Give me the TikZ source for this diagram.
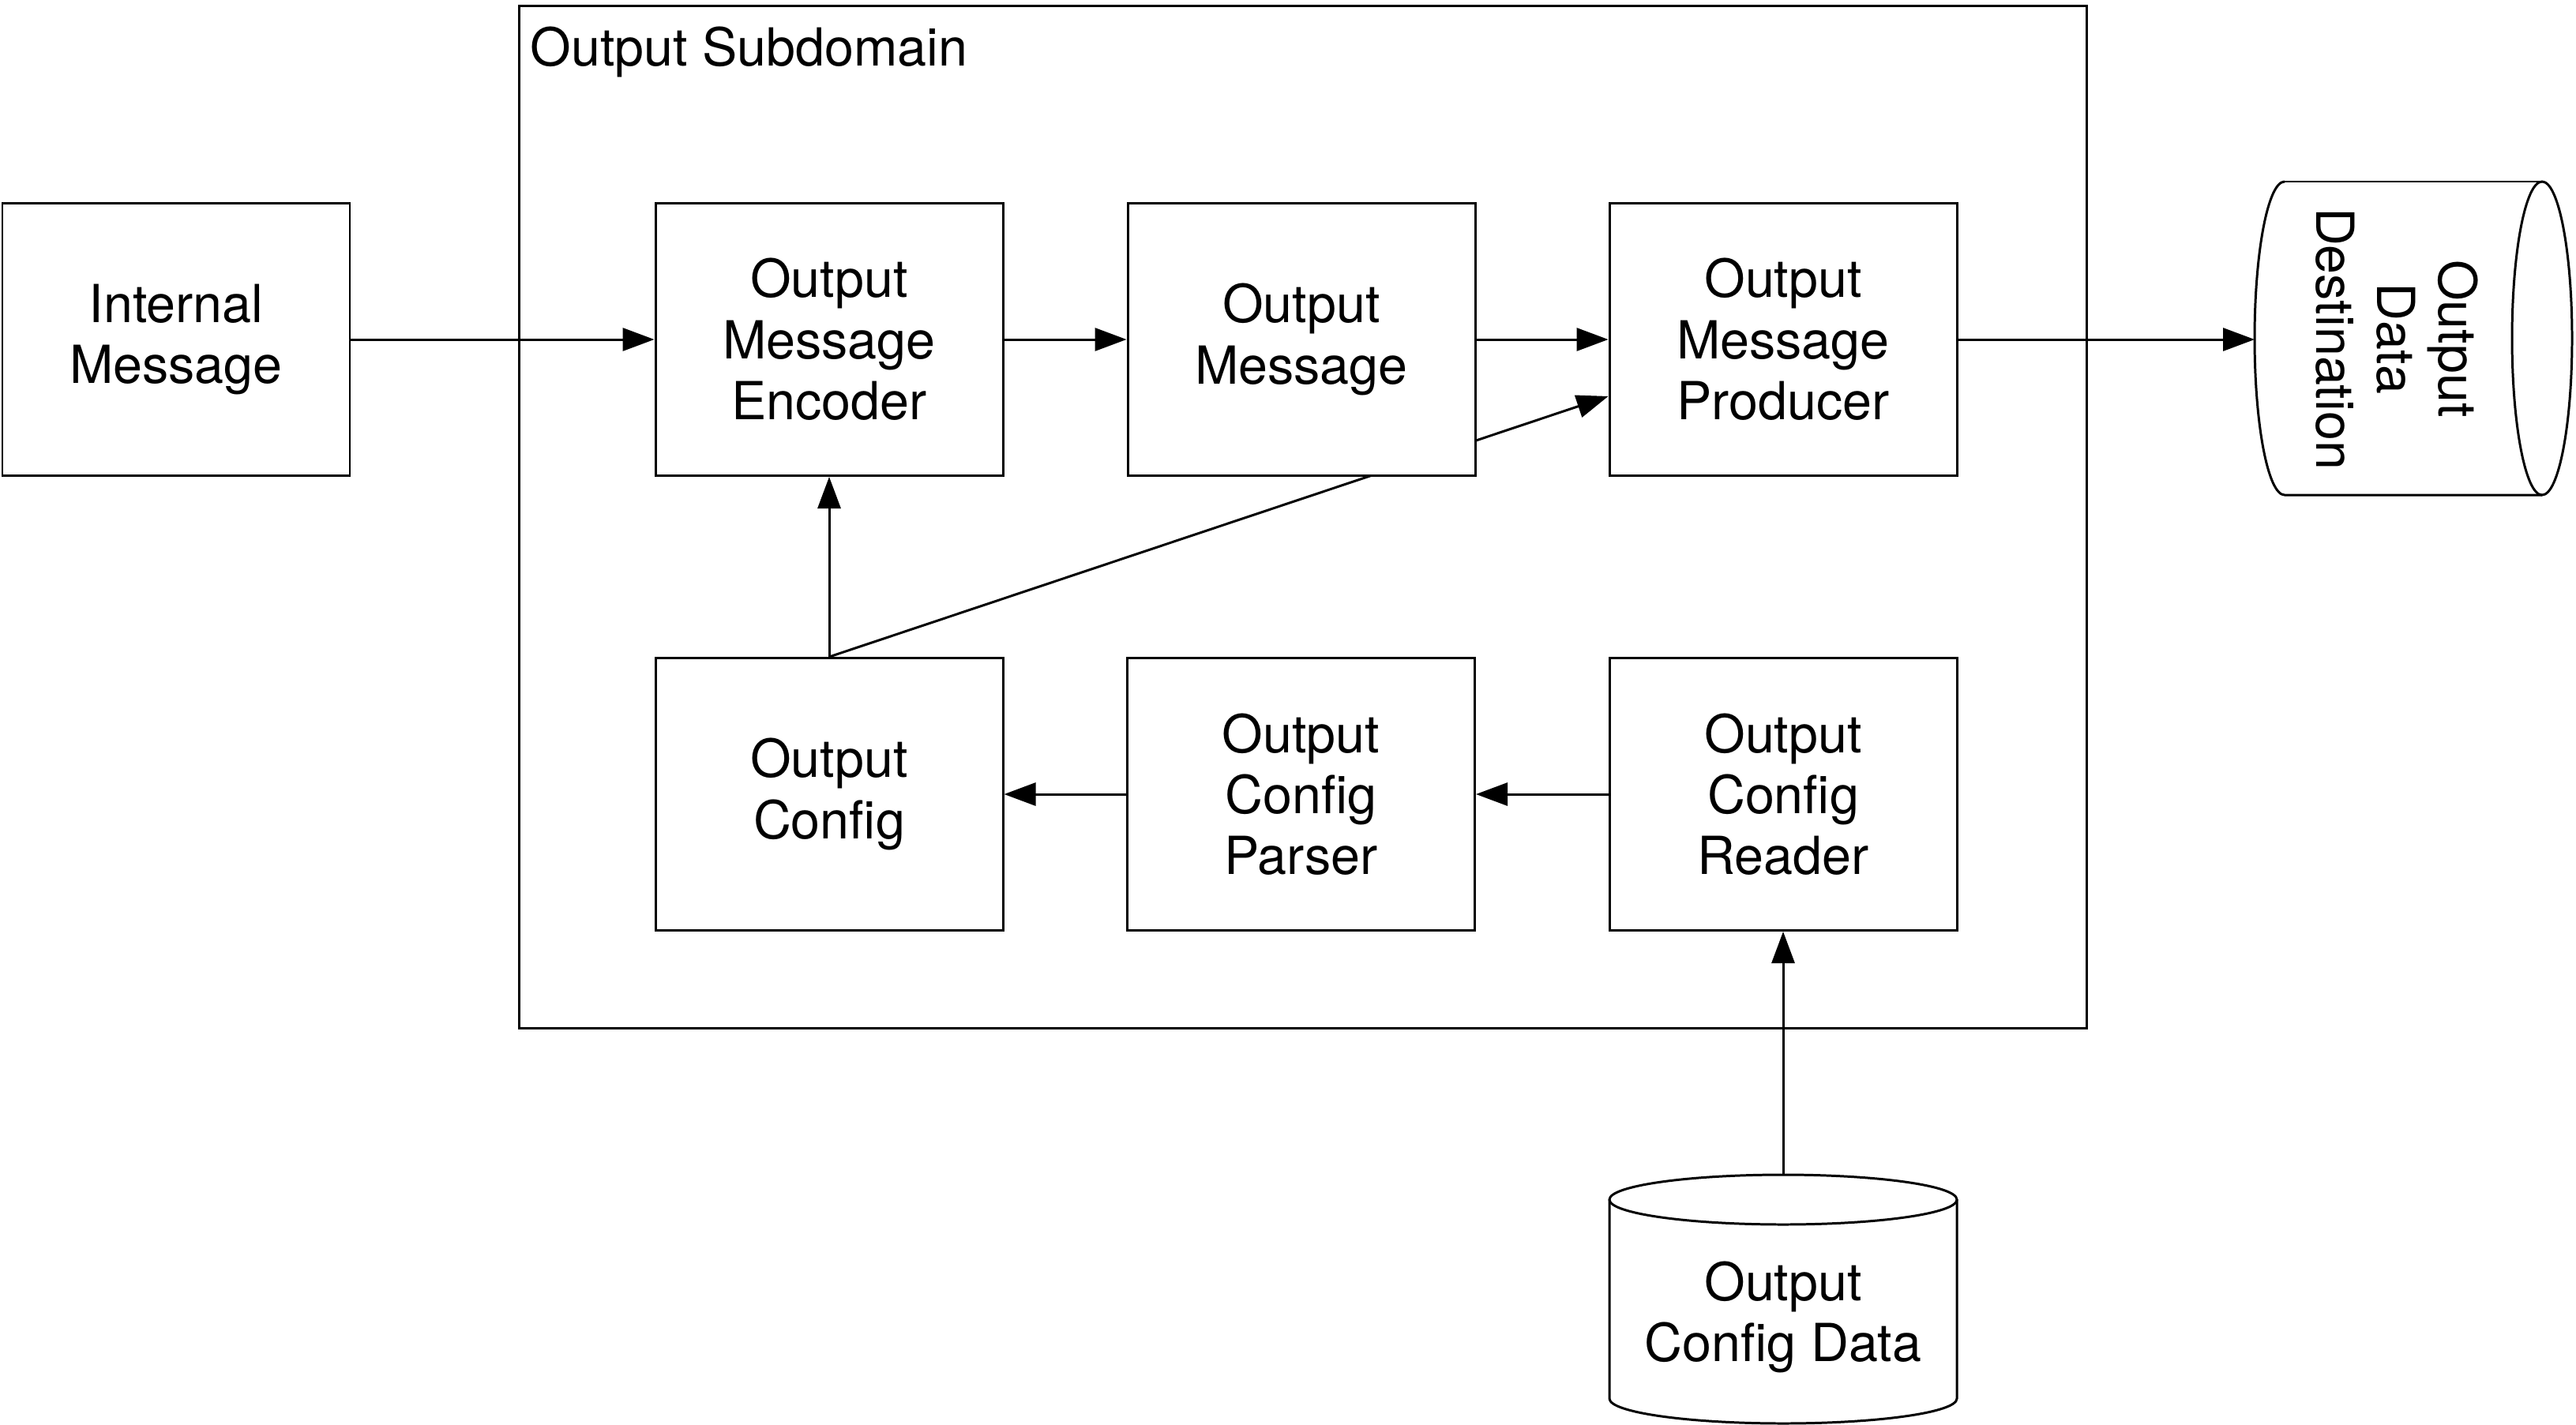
\documentclass[tikz,border=0pt]{standalone}
\usepackage{fontspec}
\setmainfont{TeX Gyre Heros}
\usetikzlibrary{arrows.meta,backgrounds}
\tikzset{>={Triangle[length=4mm,width=2.9mm]}}

\begin{document}
\begin{tikzpicture}[scale=1, line width=0.85pt]

	\tikzstyle{block} = [rectangle, draw=black, fill=white, minimum width=4.4cm, minimum height=3.45cm, align=center, font=\fontsize{18.9pt}{22pt}\selectfont]
	\tikzstyle{subdomainbox} = [rectangle, draw=black, minimum width=19.85cm, minimum height=12.95cm]
	\tikzstyle{plaintext} = [align=center, inner sep=0pt, font=\fontsize{18.9pt}{22pt}\selectfont]

	\useasboundingbox (0,0) rectangle (32.62,-18.04);

%------------------------------------------------------------
	\node[block] (intmsg) at (2.23,-4.30) {Internal\\Message};

	\node[subdomainbox] (subdom) at (16.495,-6.5475) {};
	\node[plaintext, anchor=base west] (subdomlabel) at (6.70,-0.83) {Output Subdomain};

%------------------------------------------------------------

	\node[block] (encoder) at (10.50,-4.30) {Output\\Message\\Encoder};
	\node[block] (outmsg) at (16.48,-4.30) {Output\\Message};
	\node[block] (producer) at (22.58,-4.30) {Output\\Message\\Producer};

%------------------------------------------------------------

	\node[block] (config) at (10.50,-10.06) {Output\\Config};
	\node[block] (parser) at (16.475,-10.06) {Output\\Config\\Parser};
	\node[block] (reader) at (22.58,-10.06) {Output\\Config\\Reader};

%------------------------------------------------------------

	\draw (28.93,-2.30) -- (32.19,-2.30);
	\draw (32.19,-4.285) ellipse[x radius=0.38, y radius=1.985];
	\draw (28.93,-2.30) arc[start angle=90, end angle=270, x radius=0.38, y radius=1.985] -- (32.19,-6.27);
	\node[plaintext, rotate=-90] (destination) at (30.35,-4.29) {Output\\Data\\Destination};
	\coordinate (destin) at (28.55,-4.30);

%------------------------------------------------------------

	\draw (20.38,-15.195) -- (20.38,-17.715) arc[start angle=180, end angle=360, x radius=2.2, y radius=0.315] -- (24.78,-15.195);
	\draw (22.58,-15.195) ellipse[x radius=2.2, y radius=0.315];
	\node[plaintext] (cfgdata) at (22.58,-16.685) {Output\\Config Data};
	\coordinate (cfgtop) at (22.58,-14.88);

%------------------------------------------------------------

	\draw[->] (intmsg.east) -- (encoder.west);
	\draw[->] (encoder.east) -- (outmsg.west);
	\draw[->] (outmsg.east) -- (producer.west);
	\draw[->] (producer.east) -- (destin);
	\draw[->] (config.north) -- (encoder.south);
	\begin{scope}[on background layer]
		\draw[->, line width=0.85pt] (config.north) -- (producer.198.5);
	\end{scope}
	\draw[->] (parser.west) -- (config.east);
	\draw[->] (reader.west) -- (parser.east);
	\draw[->] (cfgtop) -- (reader.south);

\end{tikzpicture}
\end{document}
